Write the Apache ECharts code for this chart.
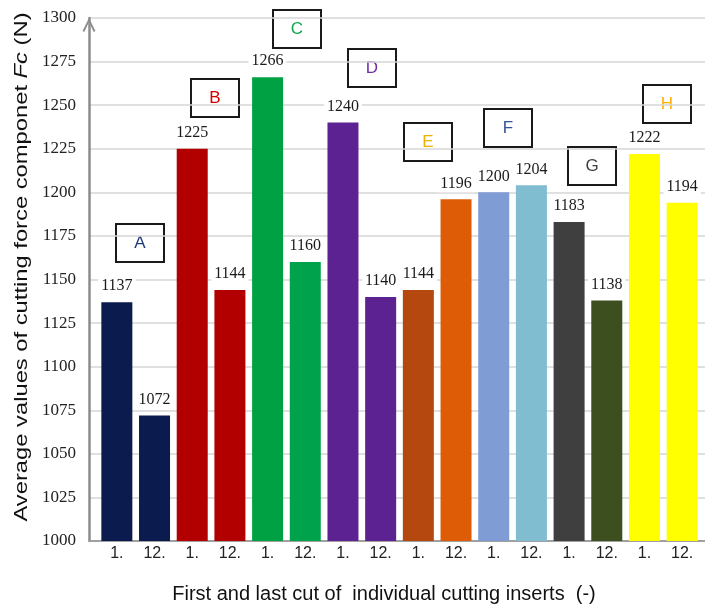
<!DOCTYPE html>
<html>
<head>
<meta charset="utf-8">
<script src="https://cdn.jsdelivr.net/npm/echarts@6/dist/echarts.min.js"></script>
<style>
  html, body { margin: 0; padding: 0; background: #ffffff; }
  #chart { width: 705px; height: 610px; }
</style>
</head>
<body>
<div id="chart"></div>
<script>
// First (1.) and last (12.) cut for each insert A–H
const categories = ['1.', '12.', '1.', '12.', '1.', '12.', '1.', '12.',
                    '1.', '12.', '1.', '12.', '1.', '12.', '1.', '12.'];
const forceValues = [1137, 1072, 1225, 1144, 1266, 1160, 1240, 1140,
                     1144, 1196, 1200, 1204, 1183, 1138, 1222, 1194];
const insertNames = ['A', 'B', 'C', 'D', 'E', 'F', 'G', 'H'];
const yTicks = { min: 1000, max: 1300, step: 25 };

// colours per bar and per insert letter
const barPalette = ['#0c1b4d', '#0c1b4d', '#b20000', '#b20000', '#00a143', '#00a34c',
                    '#5c2292', '#5c2292', '#b5480f', '#df5c07', '#7f9dd4', '#80bdd0',
                    '#3f3f3f', '#3d4e1f', '#ffff00', '#ffff00'];
const letterPalette = ['#1f3a78', '#d40000', '#13a552', '#7030a0', '#f0b000', '#2f5597', '#404040', '#ffae00'];
// annotation box placement (left, top) in pixels
const boxPlacement = [[115, 223], [190, 78], [272, 9], [347, 48], [403, 122], [483, 108], [567, 146], [642, 84]];

const chart = echarts.init(document.getElementById('chart'), null, { renderer: 'canvas' });

const serif = '"Liberation Serif", "Times New Roman", serif';
const sans = '"Liberation Sans", Arial, sans-serif';

const boxes = insertNames.map((name, i) => ({
  type: 'group',
  left: boxPlacement[i][0],
  top: boxPlacement[i][1],
  children: [
    { type: 'rect', shape: { x: 0, y: 0, width: 48, height: 38 },
      style: { fill: '#ffffff', stroke: '#1a1a1a', lineWidth: 2 } },
    { type: 'text', x: 24, y: 19,
      style: { text: name, fill: letterPalette[i], font: '17px ' + sans,
               textAlign: 'center', textVerticalAlign: 'middle' } }
  ]
}));

// vertical axis title, stretched along its length
const yTitle = {
  type: 'text',
  x: 22, y: 267,
  rotation: Math.PI / 2,
  scaleX: 1.25,
  style: {
    text: 'Average values of cutting force componet {i|Fc} (N)',
    font: '19px ' + sans,
    fill: '#111',
    textAlign: 'center',
    textVerticalAlign: 'middle',
    rich: { i: { fontFamily: sans, fontSize: 19, fontStyle: 'italic', fill: '#111' } }
  }
};

chart.setOption({
  animation: false,
  backgroundColor: '#ffffff',
  grid: [
    { left: 89, right: 0, top: 18, bottom: 69 },
    { left: 98, right: 4, top: 18, bottom: 69 }
  ],
  xAxis: [
    {
      type: 'value', gridIndex: 0, min: 0, max: 1,
      axisLine: { show: true, lineStyle: { color: '#a0a0a0', width: 2 } },
      axisTick: { show: false }, axisLabel: { show: false }, splitLine: { show: false },
      name: 'First and last cut of  individual cutting inserts  (-)',
      nameLocation: 'middle', nameGap: 43,
      nameTextStyle: { fontFamily: sans, fontSize: 20, color: '#111', padding: [0, 26, 0, 0] }
    },
    {
      type: 'category', gridIndex: 1, data: categories,
      axisLine: { show: false }, axisTick: { show: false },
      axisLabel: { fontFamily: sans, fontSize: 16, color: '#222', margin: 5, interval: 0 }
    }
  ],
  yAxis: [
    {
      type: 'value', gridIndex: 0, min: yTicks.min, max: yTicks.max, interval: yTicks.step,
      axisLine: {
        show: true,
        lineStyle: { color: '#8c8c8c', width: 2.5 },
        symbol: ['none', 'path://M0,12 L6,0 L12,12 L10.4,13 L6,3.8 L1.6,13 Z'],
        symbolSize: [13, 14],
        symbolOffset: [0, -7]
      },
      axisTick: { show: false },
      axisLabel: { fontFamily: serif, fontSize: 17, color: '#222', margin: 13,
                   formatter: v => String(v) },
      splitLine: { lineStyle: { color: '#d6d6d6', width: 1.5 } }
    },
    { type: 'value', gridIndex: 1, min: yTicks.min, max: yTicks.max, show: false }
  ],
  series: [{
    type: 'bar',
    xAxisIndex: 1, yAxisIndex: 1,
    barWidth: 31,
    data: forceValues.map((v, i) => ({ value: v, itemStyle: { color: barPalette[i] } })),
    label: {
      show: true, position: 'top', distance: 7,
      fontFamily: serif, fontSize: 16, color: '#1a1a1a',
      backgroundColor: '#ffffff', padding: [1, 3]
    }
  }],
  graphic: boxes.concat([yTitle])
});
</script>
</body>
</html>
